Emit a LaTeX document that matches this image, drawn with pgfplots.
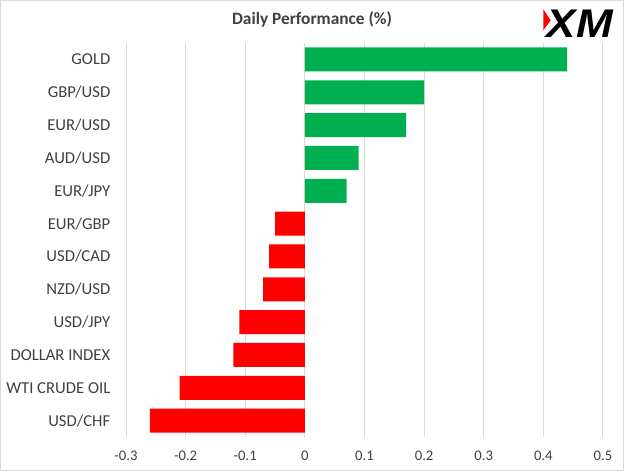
\documentclass[border=0pt]{standalone}
\usepackage{pgfplots}
\pgfplotsset{compat=1.18}
\usepackage{fontspec}
\setmainfont{Carlito}
\newfontfamily\logofont{Liberation Sans}

\definecolor{upgreen}{RGB}{0,176,80}
\definecolor{downred}{RGB}{255,0,0}
\definecolor{gridgray}{RGB}{217,217,217}
\definecolor{labelgray}{RGB}{64,64,64}

\begin{document}
\begin{tikzpicture}
% outer frame, 624 x 471 px at 0.75pt per px
\draw[gridgray, line width=0.75pt] (0.375pt,0.375pt) rectangle (467.625pt,352.875pt);

\node[font=\bfseries\fontsize{13}{15}\selectfont, text=labelgray, anchor=base] at (234pt,334.5pt) {Daily Performance (\%)};

% logo
\fill[downred] (407.5pt,346.3pt) -- (413pt,338pt) -- (407.5pt,330.5pt) -- cycle;
\node[font=\logofont\bfseries\itshape\fontsize{30}{30}\selectfont, xscale=1.1, inner sep=0pt, anchor=base west] at (410pt,324.75pt) {XM};

\begin{axis}[
  at={(94.5pt,25.5pt)}, anchor=south west,
  scale only axis, width=357.75pt, height=295.5pt,
  xmin=-0.3, xmax=0.5, ymin=-0.5, ymax=11.5,
  y dir=reverse,
  xtick={-0.3,-0.2,-0.1,0,0.1,0.2,0.3,0.4,0.5},
  xticklabels={-0.3,-0.2,-0.1,0,0.1,0.2,0.3,0.4,0.5},
  ytick={0,...,11},
  yticklabels={GOLD,GBP/USD,EUR/USD,AUD/USD,EUR/JPY,EUR/GBP,USD/CAD,NZD/USD,USD/JPY,DOLLAR INDEX,WTI CRUDE OIL,USD/CHF},
  xmajorgrids,
  major grid style={gridgray, line width=0.75pt},
  axis line style={draw=none},
  tick style={draw=none},
  ticklabel style={text=labelgray, font=\fontsize{11}{13}\selectfont},
  yticklabel style={font=\fontsize{12.5}{14}\selectfont, xshift=-4pt},
  xticklabel style={yshift=-7pt},
  xbar, bar width=18pt,
]
\addplot[fill=upgreen, draw=none, bar shift=0pt] coordinates {
  (0.44,0) (0.20,1) (0.17,2) (0.09,3) (0.07,4)
};
\addplot[fill=downred, draw=none, bar shift=0pt] coordinates {
  (-0.05,5) (-0.06,6) (-0.07,7) (-0.11,8) (-0.12,9) (-0.21,10) (-0.26,11)
};
\end{axis}
\end{tikzpicture}
\end{document}
